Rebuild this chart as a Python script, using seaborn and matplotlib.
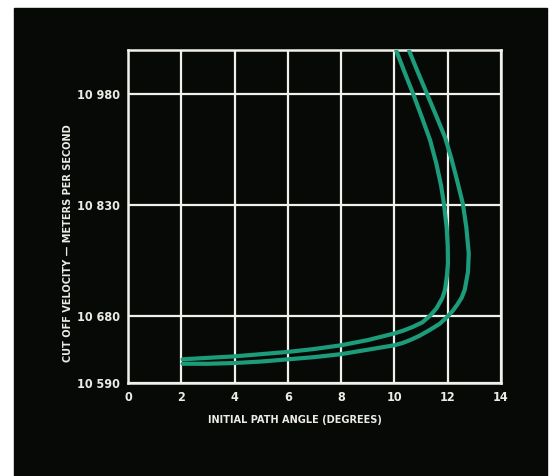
import matplotlib
matplotlib.use("Agg")
import matplotlib.pyplot as plt
import matplotlib.patches as mpatches
import pandas as pd
import seaborn as sns

# values (angle in degrees, velocity in m/s)
inner_angle = [10.07, 10.38, 10.70, 11.02, 11.34, 11.57, 11.75, 11.86, 11.96, 12.00,
               12.01, 11.97, 11.90, 11.80, 11.58, 11.34, 11.05, 10.70, 10.35, 10.00,
               9.0, 8.0, 7.0, 6.0, 5.0, 4.0, 3.0, 2.05]
inner_velocity = [11039, 11010, 10981, 10950, 10918, 10887, 10857, 10832, 10800, 10775,
                  10752, 10735, 10716, 10705, 10691, 10681, 10672, 10666, 10661, 10657,
                  10648, 10641, 10636, 10632, 10629, 10626, 10624, 10622]

outer_angle = [10.55, 10.88, 11.22, 11.58, 11.90, 12.14, 12.35, 12.57, 12.70, 12.79,
               12.76, 12.64, 12.52, 12.36, 12.20, 12.00, 11.70, 11.34, 10.95, 10.59,
               10.30, 10.00, 9.0, 8.0, 7.0, 6.0, 5.0, 4.0, 3.0, 2.05]
outer_velocity = [11039, 11010, 10981, 10950, 10922, 10893, 10864, 10832, 10800, 10765,
                  10740, 10716, 10705, 10696, 10688, 10680, 10670, 10662, 10654, 10648,
                  10644, 10641, 10635, 10629, 10625, 10622, 10619, 10617, 10616, 10616]

x_ticks = [0, 2, 4, 6, 8, 10, 12, 14]
y_ticks = [10590, 10680, 10830, 10980]
y_tick_labels = ["10 590", "10 680", "10 830", "10 980"]

sns.set_style("dark")
plt.rcParams["font.family"] = ["DejaVu Sans"]
plt.rcParams["font.stretch"] = "condensed"

W, H = 557, 476
fig = plt.figure(figsize=(W / 100, H / 100), dpi=100)
fig.patch.set_facecolor("white")
# black panel behind the chart
panel = mpatches.Rectangle((14 / W, 0), (547 - 14) / W, 1 - 8 / H,
                           transform=fig.transFigure, color="#060906", zorder=-5)
fig.patches.append(panel)

ax = fig.add_axes([128 / W, 1 - 383 / H, (501 - 128) / W, (383 - 50) / H])
ax.set_zorder(2)
ax.set_facecolor("#060906")

df = pd.concat([
    pd.DataFrame({"angle": inner_angle, "velocity": inner_velocity, "curve": "inner"}),
    pd.DataFrame({"angle": outer_angle, "velocity": outer_velocity, "curve": "outer"}),
])
sns.lineplot(data=df, x="angle", y="velocity", units="curve", estimator=None, sort=False,
             color="#1c9c7a", lw=3.0, ax=ax, zorder=3,
             solid_capstyle="round", solid_joinstyle="round")

ax.set_xlim(0, 14)
ax.set_ylim(10590, 11040)
ax.set_xticks(x_ticks)
ax.set_xticklabels([str(t) for t in x_ticks])
ax.set_yticks(y_ticks)
ax.set_yticklabels(y_tick_labels)
ax.grid(True, color="#f2f0ea", lw=1.6)
ax.tick_params(length=0, colors="#ecebe6", labelsize=9, pad=6)
for lab in ax.get_xticklabels() + ax.get_yticklabels():
    lab.set_fontweight("bold")
for s in ax.spines.values():
    s.set_visible(True)
    s.set_color("#f2f0ea")
    s.set_linewidth(1.8)
ax.set_xlabel("")
ax.set_ylabel("")

fig.text(295 / W, 1 - 420 / H, "INITIAL PATH ANGLE (DEGREES)", color="#ecebe6",
         fontsize=7.8, fontweight="bold", ha="center", va="center")
fig.text(68 / W, 1 - 243 / H, "CUT OFF VELOCITY — METERS PER SECOND", color="#ecebe6",
         fontsize=7.8, fontweight="bold", ha="center", va="center", rotation=90)

fig.savefig("out.png", dpi=100, facecolor="white")
